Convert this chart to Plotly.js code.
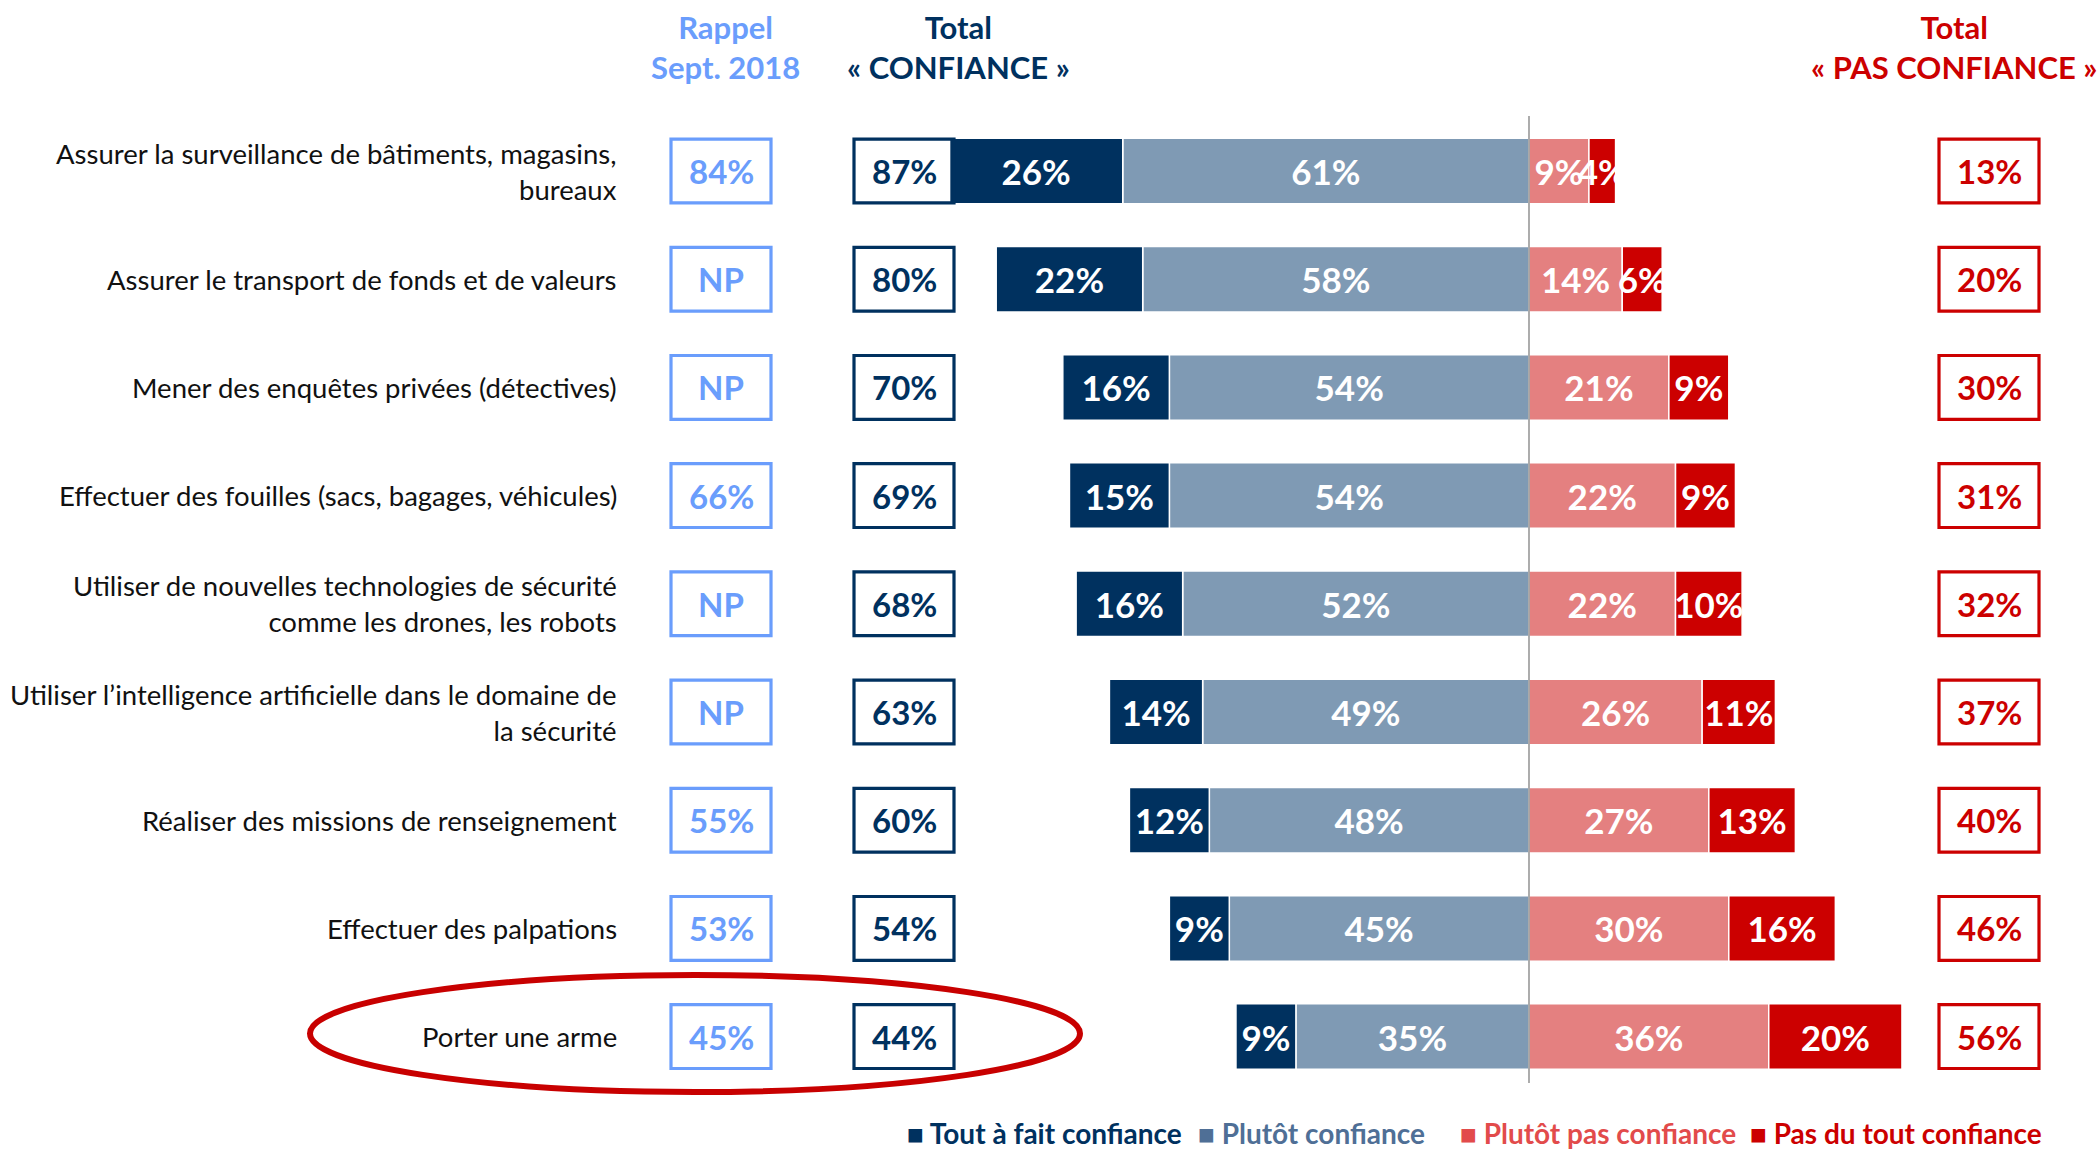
<!DOCTYPE html>
<html><head><meta charset="utf-8">
<script src="https://cdn.plot.ly/plotly-3.0.1.min.js"></script>
<style>html,body{margin:0;padding:0;background:#fff}#chart{width:2097px;height:1151px}</style>
</head><body><div id="chart"></div>
<script>
const categories = [
  "Assurer la surveillance de bâtiments, magasins,<br>bureaux",
  "Assurer le transport de fonds et de valeurs",
  "Mener des enquêtes privées (détectives)",
  "Effectuer des fouilles (sacs, bagages, véhicules)",
  "Utiliser de nouvelles technologies de sécurité<br>comme les drones, les robots",
  "Utiliser l’intelligence artificielle dans le domaine de<br>la sécurité",
  "Réaliser des missions de renseignement",
  "Effectuer des palpations",
  "Porter une arme"
];
const toutAFait = [26, 22, 16, 15, 16, 14, 12, 9, 9];
const plutot = [61, 58, 54, 54, 52, 49, 48, 45, 35];
const plutotPas = [9, 14, 21, 22, 22, 26, 27, 30, 36];
const pasDuTout = [4, 6, 9, 9, 10, 11, 13, 16, 20];
const rappel2018 = [84, null, null, 66, null, null, 55, 53, 45];
const totalConfiance = [87, 80, 70, 69, 68, 63, 60, 54, 44];
const totalPasConfiance = [13, 20, 30, 31, 32, 37, 40, 46, 56];
const seriesNames = ["Tout à fait confiance", "Plutôt confiance", "Plutôt pas confiance", "Pas du tout confiance"];

const W = 2097, H = 1151;
const px = x => x / W;
const py = y => 1 - y / H;
const FONT = "Lato, 'Open Sans', sans-serif";
const C = {navy: "#00315f", slate: "#7f9ab4", slateLeg: "#4f6f96", pink: "#e48080", pinkLeg: "#e24b4b", red: "#cc0000", light: "#6a9dfc", grey: "#808080"};

const idx = categories.map((_, i) => i);
const pct = v => v + "%";
function barTrace(vals, sign, color, name) {
  return {
    type: "bar", orientation: "h", name: name,
    y: idx, x: vals.map(v => sign * v),
    text: vals.map(pct), texttemplate: "%{text}",
    textposition: "inside", insidetextanchor: "middle", textangle: 0,
    textfont: {family: FONT, size: 35, color: "#ffffff", weight: 700},
    marker: {color: color, line: {color: "#ffffff", width: 1.5}},
    width: 0.605, hoverinfo: "skip", showlegend: false, cliponaxis: false
  };
}
const data = [
  barTrace(plutot, -1, C.slate, seriesNames[1]),
  barTrace(toutAFait, -1, C.navy, seriesNames[0]),
  barTrace(plutotPas, 1, C.pink, seriesNames[2]),
  barTrace(pasDuTout, 1, C.red, seriesNames[3])
];

const zeroX = 1529, pxPerUnit = 6.66;
const rowTop = 171, rowStep = 108.2;
const yTop = -rowTop / rowStep, yBot = (H - rowTop) / rowStep;

const shapes = [];
const annotations = [];

// zero line
shapes.push({type: "line", xref: "x", yref: "paper", x0: 0, x1: 0, y0: py(116), y1: py(1083), line: {color: C.grey, width: 1.3}});

// boxes
function box(cx, i, color, txt) {
  const hw = 50, hh = 0.295;
  shapes.push({type: "rect", xref: "paper", yref: "y", x0: px(cx - hw), x1: px(cx + hw), y0: i - hh, y1: i + hh, line: {color: color, width: 3.2}, fillcolor: "rgba(0,0,0,0)"});
  annotations.push({xref: "paper", yref: "y", x: px(cx), y: i, text: "<b>" + txt + "</b>", showarrow: false, xanchor: "center", yanchor: "middle", font: {family: FONT, size: 33, color: color}});
}
idx.forEach(i => {
  box(721, i, C.light, rappel2018[i] === null ? "NP" : pct(rappel2018[i]));
  box(904, i, C.navy, pct(totalConfiance[i]));
  box(1989, i, C.red, pct(totalPasConfiance[i]));
  annotations.push({xref: "paper", yref: "y", x: px(619), y: i, text: categories[i], showarrow: false, xanchor: "right", yanchor: "middle", align: "right", font: {family: FONT, size: 27.5, color: "#111111"}});
});

// headers
function header(cx, color, lines) {
  annotations.push({xref: "paper", yref: "paper", x: px(cx), y: py(47), text: "<b>" + lines.join("<br>") + "</b>", showarrow: false, xanchor: "center", yanchor: "middle", align: "center", font: {family: FONT, size: 31, color: color}});
}
header(725, C.light, ["Rappel", "Sept. 2018"]);
header(958, C.navy, ["Total", "« CONFIANCE »"]);
header(1954, C.red, ["Total", "« PAS CONFIANCE »"]);

// ellipse highlight
shapes.push({type: "circle", xref: "paper", yref: "paper", x0: px(310), x1: px(1080), y0: py(975), y1: py(1092), line: {color: "#c80000", width: 6}});

// legend as annotations
const legendItems = [
  {name: seriesNames[0], color: C.navy, x: 905},
  {name: seriesNames[1], color: C.slateLeg, x: 1196},
  {name: seriesNames[2], color: C.pinkLeg, x: 1458},
  {name: seriesNames[3], color: C.red, x: 1748}
];
legendItems.forEach(it => {
  annotations.push({xref: "paper", yref: "paper", x: px(it.x), y: py(1133), text: "<b>■ " + it.name + "</b>", showarrow: false, xanchor: "left", yanchor: "middle", font: {family: FONT, size: 28, color: it.color}});
});

const layout = {
  width: W, height: H,
  margin: {l: 0, r: 0, t: 0, b: 0, pad: 0},
  paper_bgcolor: "#ffffff", plot_bgcolor: "rgba(0,0,0,0)",
  barmode: "relative", bargap: 0,
  showlegend: false,
  uniformtext: {mode: "show", minsize: 35},
  xaxis: {domain: [0, 1], range: [-zeroX / pxPerUnit, (W - zeroX) / pxPerUnit], visible: false, fixedrange: true},
  yaxis: {domain: [0, 1], range: [yBot, yTop], visible: false, fixedrange: true},
  shapes: shapes, annotations: annotations,
  font: {family: FONT}
};
Plotly.newPlot("chart", data, layout, {staticPlot: true, displayModeBar: false});
</script></body></html>
